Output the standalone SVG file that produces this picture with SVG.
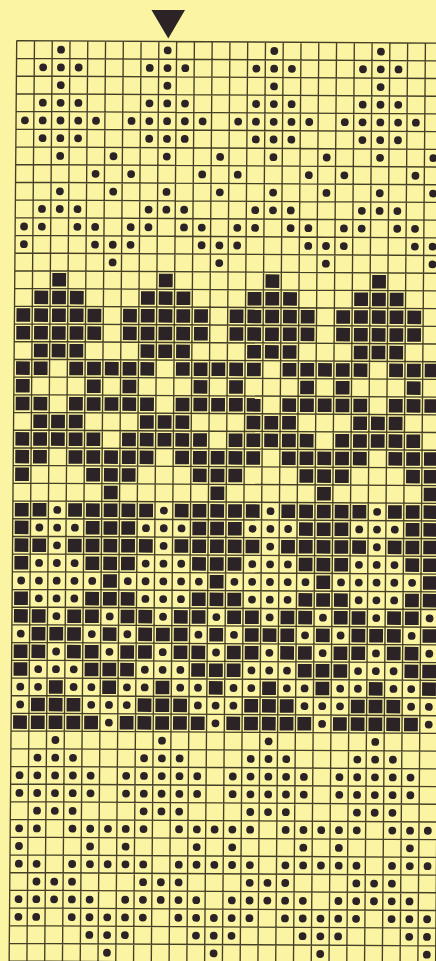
<svg xmlns="http://www.w3.org/2000/svg" width="436" height="961" viewBox="0 0 436 961">
<style>
.bg{fill:#fbf4a2}
.k{fill:#2b2325}
.grid{fill:none;stroke:#443f26;stroke-width:1.35}
</style>
<defs>
<circle id="d" cx="0" cy="8.85" r="3.9" class="k"/>
<rect id="s" x="-6.9" y="2.1" width="13.8" height="13.5" class="k"/>
<g id="dA"><use href="#d" x="44.43"/></g>
<g id="dB"><use href="#d" x="26.66"/><use href="#d" x="44.43"/><use href="#d" x="62.2"/></g>
<g id="dC"><use href="#d" x="8.89"/><use href="#d" x="26.66"/><use href="#d" x="44.43"/><use href="#d" x="62.2"/><use href="#d" x="79.97"/></g>
<g id="dD"><use href="#d" x="44.43"/><use href="#d" x="97.74"/></g>
<g id="dE"><use href="#d" x="8.89"/><use href="#d" x="79.97"/></g>
<g id="dE2"><use href="#d" x="79.97"/><use href="#d" x="115.51"/></g>
<g id="dF"><use href="#d" x="8.89"/><use href="#d" x="26.66"/><use href="#d" x="62.2"/><use href="#d" x="79.97"/></g>
<g id="dG"><use href="#d" x="8.89"/><use href="#d" x="79.97"/><use href="#d" x="97.74"/></g>
<g id="dG2"><use href="#d" x="79.97"/><use href="#d" x="97.74"/><use href="#d" x="115.51"/></g>
<g id="dH"><use href="#d" x="97.74"/></g>
<g id="dI"><use href="#d" x="8.89"/><use href="#d" x="26.66"/><use href="#d" x="62.2"/><use href="#d" x="79.97"/><use href="#d" x="97.74"/></g>
<g id="sA"><use href="#s" x="44.43"/></g>
<g id="sB"><use href="#s" x="26.66"/><use href="#s" x="44.43"/><use href="#s" x="62.2"/></g>
<g id="sC"><use href="#s" x="8.89"/><use href="#s" x="26.66"/><use href="#s" x="44.43"/><use href="#s" x="62.2"/><use href="#s" x="79.97"/></g>
<g id="sI"><use href="#s" x="8.89"/><use href="#s" x="26.66"/><use href="#s" x="62.2"/><use href="#s" x="79.97"/><use href="#s" x="97.74"/></g>
<g id="sE"><use href="#s" x="8.89"/><use href="#s" x="79.97"/></g>
<g id="sG"><use href="#s" x="8.89"/><use href="#s" x="79.97"/><use href="#s" x="97.74"/></g>
<g id="sH"><use href="#s" x="97.74"/></g>
<g id="sF"><use href="#s" x="8.89"/><use href="#s" x="26.66"/><use href="#s" x="62.2"/><use href="#s" x="79.97"/></g>
<g id="sK"><use href="#s" x="26.66"/><use href="#s" x="44.43"/><use href="#s" x="62.2"/><use href="#s" x="97.74"/></g>
<g id="sD"><use href="#s" x="44.43"/><use href="#s" x="97.74"/></g>
<g id="m26"><use href="#dA"/><use href="#sI"/></g>
<g id="m27"><use href="#dB"/><use href="#sG"/></g>
<g id="m30"><use href="#dC"/><use href="#sH"/></g>
<g id="m32"><use href="#dD"/><use href="#sF"/></g>
<g id="m33"><use href="#dE"/><use href="#sK"/></g>
<g id="m36"><use href="#dF"/><use href="#sD"/></g>
<g id="m37"><use href="#dG"/><use href="#sB"/></g>
<g id="m38"><use href="#dH"/><use href="#sC"/></g>
<g id="rdA"><use href="#dA"/><use href="#dA" x="106.62"/><use href="#dA" x="213.24"/><use href="#dA" x="319.86"/></g>
<g id="rdB"><use href="#dB"/><use href="#dB" x="106.62"/><use href="#dB" x="213.24"/><use href="#dB" x="319.86"/></g>
<g id="rdC"><use href="#dC"/><use href="#dC" x="106.62"/><use href="#dC" x="213.24"/><use href="#dC" x="319.86"/></g>
<g id="rdD"><use href="#dD"/><use href="#dD" x="106.62"/><use href="#dD" x="213.24"/><use href="#dD" x="319.86"/></g>
<g id="rdE"><use href="#dE"/><use href="#dE" x="106.62"/><use href="#dE" x="213.24"/><use href="#dE" x="319.86"/></g>
<g id="rdE2"><use href="#dE2"/><use href="#dE2" x="106.62"/><use href="#dE2" x="213.24"/><use href="#dE2" x="319.86"/></g>
<g id="rdF"><use href="#dF"/><use href="#dF" x="106.62"/><use href="#dF" x="213.24"/><use href="#dF" x="319.86"/></g>
<g id="rdG"><use href="#dG"/><use href="#dG" x="106.62"/><use href="#dG" x="213.24"/><use href="#dG" x="319.86"/></g>
<g id="rdG2"><use href="#dG2"/><use href="#dG2" x="106.62"/><use href="#dG2" x="213.24"/><use href="#dG2" x="319.86"/></g>
<g id="rdH"><use href="#dH"/><use href="#dH" x="106.62"/><use href="#dH" x="213.24"/><use href="#dH" x="319.86"/></g>
<g id="rdI"><use href="#dI"/><use href="#dI" x="106.62"/><use href="#dI" x="213.24"/><use href="#dI" x="319.86"/></g>
<g id="rsA"><use href="#sA"/><use href="#sA" x="106.62"/><use href="#sA" x="213.24"/><use href="#sA" x="319.86"/></g>
<g id="rsB"><use href="#sB"/><use href="#sB" x="106.62"/><use href="#sB" x="213.24"/><use href="#sB" x="319.86"/></g>
<g id="rsC"><use href="#sC"/><use href="#sC" x="106.62"/><use href="#sC" x="213.24"/><use href="#sC" x="319.86"/></g>
<g id="rsI"><use href="#sI"/><use href="#sI" x="106.62"/><use href="#sI" x="213.24"/><use href="#sI" x="319.86"/></g>
<g id="rsE"><use href="#sE"/><use href="#sE" x="106.62"/><use href="#sE" x="213.24"/><use href="#sE" x="319.86"/></g>
<g id="rsG"><use href="#sG"/><use href="#sG" x="106.62"/><use href="#sG" x="213.24"/><use href="#sG" x="319.86"/></g>
<g id="rsH"><use href="#sH"/><use href="#sH" x="106.62"/><use href="#sH" x="213.24"/><use href="#sH" x="319.86"/></g>
<g id="rm26"><use href="#m26"/><use href="#m26" x="106.62"/><use href="#m26" x="213.24"/><use href="#m26" x="319.86"/></g>
<g id="rm27"><use href="#m27"/><use href="#m27" x="106.62"/><use href="#m27" x="213.24"/><use href="#m27" x="319.86"/></g>
<g id="rm30"><use href="#m30"/><use href="#m30" x="106.62"/><use href="#m30" x="213.24"/><use href="#m30" x="319.86"/></g>
<g id="rm32"><use href="#m32"/><use href="#m32" x="106.62"/><use href="#m32" x="213.24"/><use href="#m32" x="319.86"/></g>
<g id="rm33"><use href="#m33"/><use href="#m33" x="106.62"/><use href="#m33" x="213.24"/><use href="#m33" x="319.86"/></g>
<g id="rm36"><use href="#m36"/><use href="#m36" x="106.62"/><use href="#m36" x="213.24"/><use href="#m36" x="319.86"/></g>
<g id="rm37"><use href="#m37"/><use href="#m37" x="106.62"/><use href="#m37" x="213.24"/><use href="#m37" x="319.86"/></g>
<g id="rm38"><use href="#m38"/><use href="#m38" x="106.62"/><use href="#m38" x="213.24"/><use href="#m38" x="319.86"/></g>
</defs>
<rect class="bg" x="0" y="0" width="436" height="961"/>
<g id="marker"><polygon class="k" points="151.5,10 185,10 168.3,38.5"/></g>
<g id="chart" transform="matrix(1 0.006 -0.0082 1 16.7 40.6)">
<g id="grid"><path class="grid" d="M0 0H440M0 17.7H440M0 35.4H440M0 53.1H440M0 70.8H440M0 88.5H440M0 106.2H440M0 123.9H440M0 141.6H440M0 159.3H440M0 177H440M0 194.7H440M0 212.4H440M0 230.1H440M0 247.8H440M0 265.5H440M0 283.2H440M0 300.9H440M0 318.6H440M0 336.3H440M0 354H440M0 371.7H440M0 389.4H440M0 407.1H440M0 424.8H440M0 442.5H440M0 460.2H440M0 477.9H440M0 495.6H440M0 513.3H440M0 531H440M0 548.7H440M0 566.4H440M0 584.1H440M0 601.8H440M0 619.5H440M0 637.2H440M0 654.9H440M0 672.6H440M0 690.3H440M0 708H440M0 725.7H440M0 743.4H440M0 761.1H440M0 778.8H440M0 796.5H440M0 814.2H440M0 831.9H440M0 849.6H440M0 867.3H440M0 885H440M0 902.7H440M0 920.4H440M0 0V920.4M17.77 0V920.4M35.54 0V920.4M53.31 0V920.4M71.08 0V920.4M88.85 0V920.4M106.62 0V920.4M124.39 0V920.4M142.16 0V920.4M159.93 0V920.4M177.7 0V920.4M195.47 0V920.4M213.24 0V920.4M231.01 0V920.4M248.78 0V920.4M266.55 0V920.4M284.32 0V920.4M302.09 0V920.4M319.86 0V920.4M337.63 0V920.4M355.4 0V920.4M373.17 0V920.4M390.94 0V920.4M408.71 0V920.4M426.48 0V920.4"/></g>
<g id="marks">
<use href="#rdA" y="0"/>
<use href="#rdB" y="17.7"/>
<use href="#rdA" y="35.4"/>
<use href="#rdB" y="53.1"/>
<use href="#rdC" y="70.8"/>
<use href="#rdB" y="88.5"/>
<use href="#rdD" y="106.2"/>
<use href="#rdE2" y="123.9"/>
<use href="#rdD" y="141.6"/>
<use href="#rdB" y="159.3"/>
<use href="#rdF" y="177"/>
<use href="#rdG" y="194.7"/>
<use href="#rdH" y="212.4"/>
<use href="#rsA" y="230.1"/>
<use href="#rsB" y="247.8"/>
<use href="#rsC" y="265.5"/>
<use href="#rsC" y="283.2"/>
<use href="#rsB" y="300.9"/>
<use href="#rsI" y="318.6"/>
<use href="#rsE" y="336.3"/>
<use href="#rsI" y="354"/>
<use href="#rsB" y="371.7"/>
<use href="#rsC" y="389.4"/>
<use href="#rsI" y="407.1"/>
<use href="#rsG" y="424.8"/>
<use href="#rsH" y="442.5"/>
<use href="#rm26" y="460.2"/>
<use href="#rm27" y="477.9"/>
<use href="#rm26" y="495.6"/>
<use href="#rm27" y="513.3"/>
<use href="#rm30" y="531"/>
<use href="#rm27" y="548.7"/>
<use href="#rm32" y="566.4"/>
<use href="#rm33" y="584.1"/>
<use href="#rm32" y="601.8"/>
<use href="#rm27" y="619.5"/>
<use href="#rm36" y="637.2"/>
<use href="#rm37" y="654.9"/>
<use href="#rm38" y="672.6"/>
<use href="#rdA" y="690.3"/>
<use href="#rdB" y="708"/>
<use href="#rdC" y="725.7"/>
<use href="#rdC" y="743.4"/>
<use href="#rdB" y="761.1"/>
<use href="#rdI" y="778.8"/>
<use href="#rdE" y="796.5"/>
<use href="#rdI" y="814.2"/>
<use href="#rdB" y="831.9"/>
<use href="#rdC" y="849.6"/>
<use href="#rdI" y="867.3"/>
<use href="#rdG2" y="885"/>
<use href="#rdH" y="902.7"/>
</g>
</g>
</svg>
